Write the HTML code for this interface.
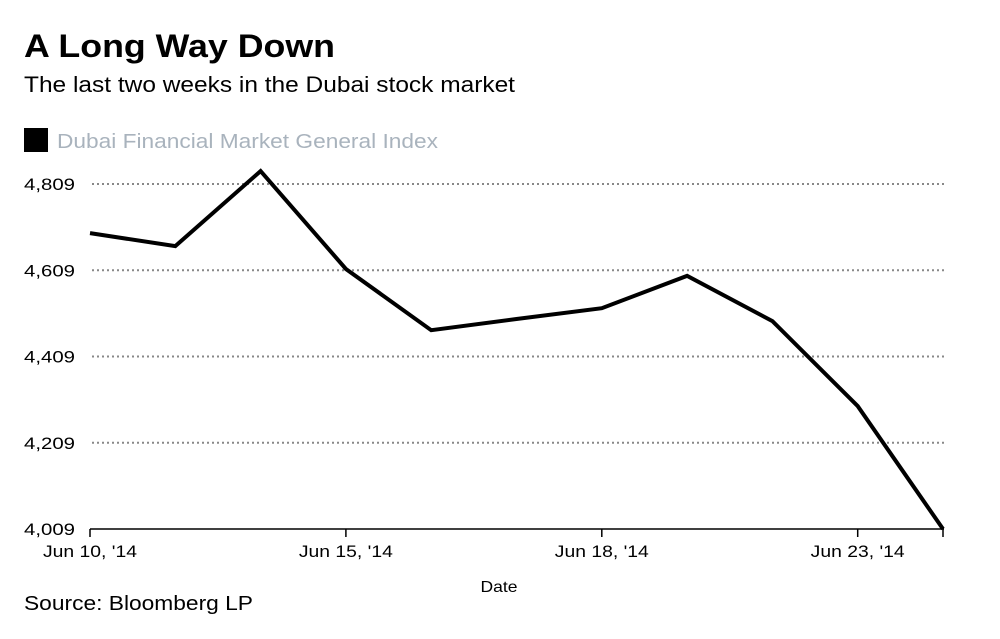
<!DOCTYPE html>
<html><head><meta charset="utf-8"><style>
body{margin:0;background:#fff;width:1000px;height:634px;overflow:hidden;font-family:"Liberation Sans",sans-serif}
</style></head><body>
<svg width="1000" height="634">
<text x="24" y="57" font-size="32" font-weight="bold" fill="#000" textLength="311" lengthAdjust="spacingAndGlyphs">A Long Way Down</text>
<text x="24" y="92" font-size="22" fill="#000" textLength="491" lengthAdjust="spacingAndGlyphs">The last two weeks in the Dubai stock market</text>
<rect x="24" y="128" width="24" height="24" fill="#000"/>
<text x="57" y="148" font-size="20" fill="#a9b3bd" textLength="381" lengthAdjust="spacingAndGlyphs">Dubai Financial Market General Index</text>
<g id="grid"></g><g id="yt"></g><g id="xt"></g>
<line x1="90" y1="529" x2="944" y2="529" stroke="#000" stroke-width="1.5"/>
<path id="line" fill="none" stroke="#000" stroke-width="4" stroke-linejoin="miter"/>
<text x="499" y="592" font-size="16" text-anchor="middle" textLength="37" lengthAdjust="spacingAndGlyphs">Date</text>
<text x="24" y="610" font-size="20" textLength="229" lengthAdjust="spacingAndGlyphs">Source: Bloomberg LP</text>
</svg>
<script>
const dates=["Jun 10","Jun 11","Jun 12","Jun 13","Jun 16","Jun 17","Jun 18","Jun 19","Jun 20","Jun 23","Jun 24"];
const values=[4695,4665,4839,4612,4470,4496,4521,4596,4491,4294,4009];
const yTicks=[4009,4209,4409,4609,4809];
const yTickLabels=["4,009","4,209","4,409","4,609","4,809"];
const xTickIdx=[0,3,6,9];
const xTickLabels=["Jun 10, '14","Jun 15, '14","Jun 18, '14","Jun 23, '14"];
const NS="http://www.w3.org/2000/svg";
const x=i=>90+i*(943-90)/(dates.length-1);
const y=v=>529-(v-4009)*(345/800);
function mk(t,a,p){const e=document.createElementNS(NS,t);for(const k in a)e.setAttribute(k,a[k]);document.getElementById(p).appendChild(e);return e;}
yTicks.forEach((v,i)=>{
 if(i>0){const g=mk("line",{x1:92,x2:944,y1:y(v),y2:y(v),stroke:"#888","stroke-width":2,"stroke-dasharray":"2,3"},"grid");
 
 }
 const t=mk("text",{x:24,y:y(v)+6,"font-size":17,textLength:51,lengthAdjust:"spacingAndGlyphs"},"yt");t.textContent=yTickLabels[i];
 
 
});
xTickIdx.forEach((ix,i)=>{
 const l=mk("line",{x1:x(ix),x2:x(ix),y1:529,y2:537,stroke:"#000","stroke-width":1.5},"xt");
 
 
 const t=mk("text",{x:x(ix),y:557,"font-size":17,"text-anchor":"middle",textLength:94,lengthAdjust:"spacingAndGlyphs"},"xt");t.textContent=xTickLabels[i];
 
 
});
const e=mk("line",{x1:943,x2:943,y1:529,y2:537,stroke:"#000","stroke-width":1.5},"xt");


document.getElementById("line").setAttribute("d",values.map((v,i)=>(i?"L":"M")+x(i)+","+y(v)).join(""));
</script>
</body></html>
